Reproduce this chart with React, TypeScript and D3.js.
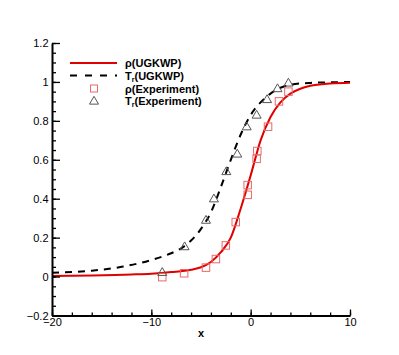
import React, { useRef, useEffect } from 'react';
import * as d3 from 'd3';

// solid red curve: rho from UGKWP
const rhoX = [-20, -16, -12, -10, -8, -6, -5, -4, -3, -2, -1, 0, 1, 2, 3, 4, 5, 6, 8, 10];
const rhoY = [0.003, 0.006, 0.011, 0.015, 0.023, 0.035, 0.048, 0.075, 0.125, 0.2, 0.35, 0.52, 0.7, 0.82, 0.895, 0.94, 0.965, 0.98, 0.992, 0.996];

// dashed black curve: T_r from UGKWP
const trX = [-20, -16, -13, -10, -8, -7, -6, -5, -4, -3, -2, -1, 0, 1, 2, 3, 4, 5, 6, 8, 10];
const trY = [0.02, 0.03, 0.05, 0.085, 0.12, 0.145, 0.185, 0.245, 0.33, 0.46, 0.6, 0.73, 0.83, 0.895, 0.94, 0.97, 0.985, 0.992, 0.995, 0.998, 1.0];

// experiment, squares
const rhoExpX = [-8.9, -6.7, -4.5, -3.5, -2.5, -1.5, -0.3, -0.3, 0.6, 0.67, 1.75, 2.85, 3.8];
const rhoExpY = [-0.003, 0.017, 0.046, 0.09, 0.16, 0.28, 0.42, 0.47, 0.605, 0.645, 0.77, 0.9, 0.95];

// experiment, triangles
const trExpX = [-8.9, -6.65, -4.5, -3.7, -2.45, -1.35, -0.4, 0.6, 1.65, 2.7, 3.8];
const trExpY = [0.022, 0.154, 0.29, 0.4, 0.54, 0.63, 0.77, 0.83, 0.91, 0.966, 0.995];

const yTicks = [-0.2, 0, 0.2, 0.4, 0.6, 0.8, 1, 1.2];
const xTicks = [-20, -10, 0, 10];

const W = 399;
const H = 355;
const FONT = '"Liberation Sans", Arial, sans-serif';

const Chart = () => {
  const svgRef = useRef<SVGSVGElement>(null);

  useEffect(() => {
    const svg = d3.select(svgRef.current);
    svg.selectAll('*').remove();

    const x = d3.scaleLinear().domain([-20, 10]).range([52, 350]);
    const y = d3.scaleLinear().domain([-0.2, 1.2]).range([315.5, 43]);

    const line = d3.line<[number, number]>()
      .x(d => x(d[0]))
      .y(d => y(d[1]))
      .curve(d3.curveMonotoneX);

    const plot = svg.append('g');

    plot.append('path')
      .attr('d', line(trX.map((v, i) => [v, trY[i]]) as [number, number][]))
      .attr('fill', 'none')
      .attr('stroke', '#000')
      .attr('stroke-width', 2)
      .attr('stroke-dasharray', '7,6');

    plot.append('path')
      .attr('d', line(rhoX.map((v, i) => [v, rhoY[i]]) as [number, number][]))
      .attr('fill', 'none')
      .attr('stroke', '#e00000')
      .attr('stroke-width', 2);

    const sq = 7.5;
    plot.selectAll('rect.rho')
      .data(rhoExpX.map((v, i) => [v, rhoExpY[i]]))
      .enter()
      .append('rect')
      .attr('x', d => x(d[0]) - sq / 2)
      .attr('y', d => y(d[1]) - sq / 2)
      .attr('width', sq)
      .attr('height', sq)
      .attr('fill', 'none')
      .attr('stroke', '#e86a6a')
      .attr('stroke-width', 1);

    const tri = (cx: number, cy: number) => {
      const s = 9;
      const h = s * 0.87;
      return `M${cx},${cy - h * 0.6}L${cx + s / 2},${cy + h * 0.4}L${cx - s / 2},${cy + h * 0.4}Z`;
    };
    plot.selectAll('path.tr')
      .data(trExpX.map((v, i) => [v, trExpY[i]]))
      .enter()
      .append('path')
      .attr('d', d => tri(x(d[0]), y(d[1])))
      .attr('fill', 'none')
      .attr('stroke', '#555')
      .attr('stroke-width', 1);

    // axes
    const yAxis = svg.append('g').attr('transform', `translate(${x(-20)},0)`);
    yAxis.call(d3.axisLeft(y).tickValues(d3.range(-0.2, 1.2001, 0.05)).tickSize(-4).tickFormat(() => ''));
    yAxis.call(g => g.select('.domain').remove());
    const yMaj = svg.append('g').attr('transform', `translate(${x(-20)},0)`);
    yMaj.call(d3.axisLeft(y).tickValues(yTicks).tickSize(-8).tickSizeOuter(0).tickPadding(3.5)
      .tickFormat(d => d3.format('~g')(+d)));

    const xAxis = svg.append('g').attr('transform', `translate(0,${y(-0.2)})`);
    xAxis.call(d3.axisBottom(x).tickValues(d3.range(-20, 10.001, 2)).tickSize(-3).tickFormat(() => ''));
    xAxis.call(g => g.select('.domain').remove());
    const xMaj = svg.append('g').attr('transform', `translate(0,${y(-0.2)})`);
    xMaj.call(d3.axisBottom(x).tickValues(xTicks).tickSize(-6).tickSizeOuter(0).tickPadding(3)
      .tickFormat(d => d3.format('~g')(+d)));

    svg.selectAll('.tick line').attr('stroke', '#000').attr('stroke-width', 1.3);
    svg.selectAll('.domain').attr('stroke', '#000').attr('stroke-width', 2);
    svg.selectAll('.tick text')
      .attr('font-family', FONT)
      .attr('font-size', 11)
      .attr('fill', '#000');

    svg.append('text')
      .attr('x', (x(-20) + x(10)) / 2)
      .attr('y', 337)
      .attr('text-anchor', 'middle')
      .attr('font-family', FONT)
      .attr('font-weight', 'bold')
      .attr('font-size', 11)
      .text('x');

    // legend
    const leg = svg.append('g')
      .attr('font-family', FONT)
      .attr('font-weight', 'bold')
      .attr('font-size', 11);
    const rows = [63, 75.5, 88.5, 101];
    leg.append('line').attr('x1', 70).attr('x2', 117).attr('y1', rows[0]).attr('y2', rows[0])
      .attr('stroke', '#e00000').attr('stroke-width', 2);
    leg.append('line').attr('x1', 70).attr('x2', 117).attr('y1', rows[1]).attr('y2', rows[1])
      .attr('stroke', '#000').attr('stroke-width', 2).attr('stroke-dasharray', '7,8');
    leg.append('rect').attr('x', 94 - 3.5).attr('y', rows[2] - 3.5).attr('width', 7).attr('height', 7)
      .attr('fill', 'none').attr('stroke', '#e86a6a');
    leg.append('path').attr('d', tri(94, rows[3])).attr('fill', 'none').attr('stroke', '#555');

    const labels = [
      ['ρ', '', '(UGKWP)'],
      ['T', 'r', '(UGKWP)'],
      ['ρ', '', '(Experiment)'],
      ['T', 'r', '(Experiment)'],
    ];
    labels.forEach((l, i) => {
      const t = leg.append('text').attr('x', 125).attr('y', rows[i] + 4);
      t.append('tspan').text(l[0]);
      if (l[1]) {
        t.append('tspan').attr('font-size', 7).attr('dy', 2).text(l[1]);
        t.append('tspan').attr('dy', -2).text(l[2]);
      } else {
        t.append('tspan').text(l[2]);
      }
    });
  }, []);

  return <svg ref={svgRef} width={W} height={H} style={{ position: 'absolute', left: 0, top: 0, background: '#fff' }} />;
};

export default function App() {
  return <Chart />;
}
